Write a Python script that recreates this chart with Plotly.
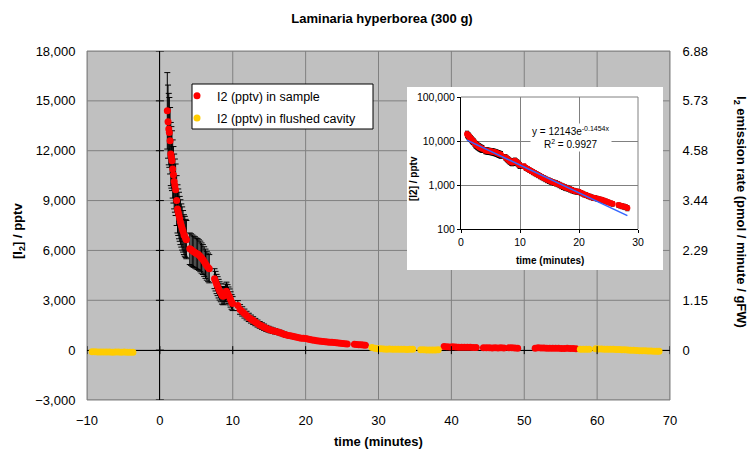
import math
import plotly.graph_objects as go

# ---------------- data ----------------
TITLE = "Laminaria hyperborea (300 g)"
SAMPLE_NAME = "I2 (pptv) in sample"
FLUSH_NAME = "I2 (pptv) in flushed cavity"

# sample, main decay (minutes)
SAMPLE_T = [1.02, 1.12, 1.22, 1.30, 1.40, 1.50, 1.58, 1.66, 1.76, 1.86, 1.96, 2.06, 2.16, 2.30,
            2.42, 2.52, 2.62, 2.72, 2.82, 2.94, 3.06, 3.18, 3.30, 3.42, 3.54, 3.64,
            4.10, 4.28, 4.46, 4.64, 4.82, 5.00, 5.18, 5.36, 5.54, 5.72, 5.90, 6.08, 6.26, 6.44,
            6.62, 6.78,
            7.50, 7.64, 7.78, 7.92, 8.06, 8.20, 8.36, 8.52, 8.68, 8.84, 9.00, 9.14, 9.28, 9.42,
            9.56, 9.70, 9.84, 9.98,
            10.7, 11.0, 11.3, 11.6, 11.9, 12.2, 12.5, 12.8, 13.1, 13.4, 13.7, 14.0, 14.3, 14.6,
            14.9, 15.2, 15.5, 15.8, 16.1, 16.4, 16.7, 17.0, 17.3, 17.6, 17.9, 18.2, 18.5, 18.8,
            19.1, 19.4, 19.7, 20.0, 20.3, 20.6, 20.9, 21.2, 21.5, 21.8, 22.1, 22.4, 22.7, 23.0,
            23.3, 23.6, 23.9, 24.2, 24.5, 24.8, 25.1, 25.4, 25.7,
            26.7, 27.0, 27.3, 27.6, 27.9, 28.2]
SAMPLE_Y = [14400, 13750, 13300, 13100, 12600, 11800, 11600, 11400, 10900, 10550, 10150, 9900, 9650, 9000,
            8500, 8300, 8100, 7900, 7700, 7500, 7320, 7150, 6950, 6850, 6720, 6650,
            6100, 6050, 5980, 5920, 5880, 5820, 5780, 5720, 5640, 5540, 5450, 5330, 5200, 5080,
            4980, 4900,
            4300, 4150, 3980, 3850, 3700, 3560, 3450, 3300, 3250, 3300, 3450, 3550, 3420, 3300,
            3200, 3050, 2900, 2800,
            2680, 2450, 2330, 2200, 2080, 1970, 1870, 1780, 1690, 1600, 1520, 1450, 1380, 1310,
            1260, 1210, 1170, 1130, 1100, 1060, 1010, 960, 920, 885, 860, 835, 800, 770,
            740, 720, 710, 700, 670, 640, 610, 590, 570, 550, 530, 515, 505, 495,
            480, 470, 460, 445, 430, 415, 400, 385, 375,
            350, 340, 330, 325, 315, 300]
SAMPLE_ERR = [2300, 2200, 2150, 2100, 2000, 1900, 1850, 1800, 1750, 1700, 1650, 1600, 1550, 1500,
              1450, 1400, 1400, 1350, 1350, 1300, 1300, 1250, 1200, 1200, 1150, 1150,
              950, 950, 950, 940, 940, 930, 930, 920, 920, 910, 900, 890, 880, 870,
              860, 850,
              600, 590, 580, 570, 560, 550, 540, 530, 520, 520, 530, 540, 520, 500,
              480, 460, 440, 420,
              300, 290, 280, 270, 260, 250, 240, 230, 220, 210, 200, 195, 190, 180,
              175, 170, 160, 155, 150, 145, 140, 135, 130, 125, 120, 115, 110, 105,
              100, 95, 90, 85, 80, 78, 75, 72, 70, 68, 66, 64, 62, 60,
              58, 56, 54, 52, 50, 48, 46, 45, 44,
              40, 40, 40, 40, 40, 40]

# sample, later measurements
LATE_T = [39.0, 39.4, 39.8, 40.2, 40.6, 41.0, 41.4, 41.8, 42.2, 42.6, 43.0, 43.4,
          44.4, 44.8, 45.2, 45.6, 46.0, 46.4, 46.8, 47.2,
          47.9, 48.3, 48.7, 49.1,
          51.5, 51.9, 52.3, 52.7, 53.1, 53.5, 53.9, 54.3, 54.7, 55.1, 55.5, 55.9, 56.3, 56.7, 57.1]
LATE_Y = [220, 200, 190, 200, 185, 180, 175, 180, 170, 175, 165, 160,
          140, 150, 145, 130, 140, 135, 145, 130,
          150, 140, 135, 120,
          120, 140, 130, 125, 120, 110, 120, 115, 110, 105, 100, 110, 100, 95, 90]
LATE_ERR = [20, 20, 20, 20, 20, 20, 20, 20, 20, 20, 20, 20,
            20, 20, 20, 20, 20, 20, 20, 20,
            20, 20, 20, 20,
            20, 20, 20, 20, 20, 20, 20, 20, 20, 20, 20, 20, 20, 20, 20]

# flushed cavity
FLUSH_T = [-9.3, -8.9, -8.5, -8.1, -7.7, -7.3, -6.9, -6.5, -6.1, -5.7, -5.3, -4.9, -4.5, -4.1, -3.7,
           29.1, 29.5, 29.9, 30.3, 30.7, 31.1, 31.5, 31.9, 32.3, 32.7, 33.1, 33.5, 33.9, 34.3, 34.7,
           35.8, 36.2, 36.6, 37.0, 37.4, 37.8, 38.2,
           57.7, 58.1, 58.5, 58.9,
           59.8, 60.2, 60.6, 61.0, 61.4, 61.8, 62.2, 62.6, 63.0, 63.4, 63.8, 64.2, 64.6, 65.0,
           65.4, 65.8, 66.2, 66.6, 67.0, 67.4, 67.8, 68.2, 68.5]
FLUSH_Y = [-90, -100, -110, -105, -110, -115, -110, -120, -115, -110, -120, -115, -125, -120, -120,
           160, 110, 90, 80, 70, 60, 70, 60, 50, 55, 60, 50, 45, 55, 60,
           30, 20, 10, 15, 5, 10, 20,
           60, 50, 55, 60,
           80, 70, 65, 60, 55, 60, 50, 40, 35, 30, 20, 10, 0, -10,
           -20, -30, -30, -40, -50, -50, -60, -60, -70]

# exponential fit shown in the inset
FIT_A = 12143
FIT_B = -0.1454
FIT_R2 = 0.9927
FIT_T = [1.0, 28.2]

# axes
X_TICKS = [-10, 0, 10, 20, 30, 40, 50, 60, 70]
Y_TICKS = [-3000, 0, 3000, 6000, 9000, 12000, 15000, 18000]
RATE_TICK_POS = [0, 3000, 6000, 9000, 12000, 15000, 18000]
RATE_TICKS = ["0", "1.15", "2.29", "3.44", "4.58", "5.73", "6.88"]
RATE_FACTOR = 6.88 / 18000
INSET_X_TICKS = [0, 10, 20, 30]
INSET_Y_TICKS = [100, 1000, 10000, 100000]
INSET_Y_LABELS = ["100", "1,000", "10,000", "100,000"]

# ---------------- styles ----------------
FONT = "Arial, 'Liberation Sans', sans-serif"
RED = "#FF0000"
YELLOW = "#FFCC00"
PLOT_GRAY = "#C0C0C0"
GRID = "#808080"

W, H = 755, 451
L, R, T, B = 87, 85, 51, 51
PW, PH = W - L - R, H - T - B


def px(x):
    return (x - L) / PW


def py(y):
    return (H - B - y) / PH


all_t = SAMPLE_T + LATE_T
all_y = SAMPLE_Y + LATE_Y
all_err = SAMPLE_ERR + LATE_ERR

fig = go.Figure()
fig.add_trace(go.Scatter(
    x=all_t, y=all_y, mode="markers", name=SAMPLE_NAME, legendgroup="a",
    marker=dict(color=RED, size=7),
    error_y=dict(type="data", array=all_err, color="black", thickness=1, width=3),
    hoverinfo="skip"))
fig.add_trace(go.Scatter(
    x=FLUSH_T, y=FLUSH_Y, mode="markers", name=FLUSH_NAME, legendgroup="b",
    marker=dict(color=YELLOW, size=7), hoverinfo="skip"))
# secondary (emission rate) axis carries the same values, scaled
fig.add_trace(go.Scatter(
    x=all_t, y=[v * RATE_FACTOR for v in all_y], yaxis="y2", mode="markers",
    marker=dict(opacity=0), showlegend=False, hoverinfo="skip"))

# inset
fig.add_trace(go.Scatter(
    x=SAMPLE_T, y=SAMPLE_Y, xaxis="x3", yaxis="y3", mode="markers",
    marker=dict(color=RED, size=6),
    error_y=dict(type="data", array=SAMPLE_ERR, color="black", thickness=1, width=2),
    showlegend=False, hoverinfo="skip"))
fig.add_trace(go.Scatter(
    x=FIT_T, y=[FIT_A * math.exp(FIT_B * t) for t in FIT_T], xaxis="x3", yaxis="y3",
    mode="lines", line=dict(color="#3366FF", width=1.5), showlegend=False, hoverinfo="skip"))

shapes = []
# main plot background and grid (lower layer, so the inset box can cover them)
shapes.append(dict(type="rect", xref="paper", yref="paper", x0=0, x1=1, y0=0, y1=1,
                   fillcolor=PLOT_GRAY, line=dict(width=0), layer="below"))
for v in X_TICKS:
    shapes.append(dict(type="line", xref="x", yref="paper", x0=v, x1=v, y0=0, y1=1,
                       line=dict(color=GRID, width=1), layer="below"))
for v in Y_TICKS:
    shapes.append(dict(type="line", xref="paper", yref="y", x0=0, x1=1, y0=v, y1=v,
                       line=dict(color=GRID, width=1), layer="below"))
shapes.append(dict(type="rect", xref="paper", yref="paper", x0=0, x1=1, y0=0, y1=1,
                   line=dict(color=GRID, width=1), layer="below"))
# inset white panel
shapes.append(dict(type="rect", xref="paper", yref="paper",
                   x0=px(407), x1=px(663), y0=py(270), y1=py(87),
                   fillcolor="white", line=dict(width=0), layer="below"))
# legend box
shapes.append(dict(type="rect", xref="paper", yref="paper",
                   x0=px(192), x1=px(373), y0=py(129), y1=py(84),
                   fillcolor="white", line=dict(color="black", width=1), layer="below"))
# tick crosses on the zero axes
for v in Y_TICKS:
    shapes.append(dict(type="line", xref="x", yref="y", xsizemode="pixel", xanchor=0,
                       x0=-4, x1=4, y0=v, y1=v, line=dict(color="black", width=1)))
for v in X_TICKS:
    shapes.append(dict(type="line", xref="x", yref="y", ysizemode="pixel", yanchor=0,
                       y0=-4, y1=4, x0=v, x1=v, line=dict(color="black", width=1)))
# inset top/right border
shapes.append(dict(type="line", xref="x3 domain", yref="y3 domain", x0=0, x1=1, y0=1, y1=1,
                   line=dict(color=GRID, width=1)))
shapes.append(dict(type="line", xref="x3 domain", yref="y3 domain", x0=1, x1=1, y0=0, y1=1,
                   line=dict(color=GRID, width=1)))


def note(text, x, y, size, angle=0, **kw):
    return dict(text=text, xref="paper", yref="paper", x=px(x), y=py(y), xanchor="center",
                yanchor="middle", textangle=angle, showarrow=False, font=dict(size=size), **kw)


annotations = [
    note("<b>[I<sub>2</sub>] / pptv</b>", 18, 231, 13, -90),
    note("<b>I<sub>2</sub> emission rate (pmol / minute / gFW)</b>", 741, 212, 13, 90),
    note("<b>time (minutes)</b>", 378, 441, 13),
    note("<b>time (minutes)</b>", 550, 260, 10),
    note("<b>[I2] / pptv</b>", 413, 179, 10, -90),
    note(f"y = {FIT_A}e<sup>{FIT_B}x</sup><br>R<sup>2</sup> = {FIT_R2}", 571, 137, 10,
         bgcolor="white"),
]

fig.update_layout(
    width=W, height=H, margin=dict(l=L, r=R, t=T, b=B, pad=0),
    paper_bgcolor="white", plot_bgcolor="white",
    font=dict(family=FONT, size=13, color="black"),
    title=dict(text=f"<b>{TITLE}</b>", x=382 / W, xanchor="center", y=1 - 18 / H, yanchor="middle",
               font=dict(size=13)),
    showlegend=True,
    legend=dict(x=px(177), y=py(81), xanchor="left", yanchor="top", bgcolor="rgba(0,0,0,0)",
                borderwidth=0, font=dict(size=12.5), traceorder="grouped", tracegroupgap=3),
    xaxis=dict(domain=[0, 1], range=[-10, 70], tickvals=X_TICKS, showgrid=False,
               zeroline=True, zerolinecolor="black", zerolinewidth=1, showline=False,
               ticks="outside", ticklen=8, tickcolor="rgba(0,0,0,0)"),
    yaxis=dict(domain=[0, 1], range=[-3000, 18000], tickvals=Y_TICKS, tickformat=",",
               showgrid=False, zeroline=True, zerolinecolor="black", zerolinewidth=1,
               showline=False, ticks="outside", ticklen=8, tickcolor="rgba(0,0,0,0)"),
    yaxis2=dict(overlaying="y", side="right", anchor="x",
                range=[-3000 * RATE_FACTOR, 18000 * RATE_FACTOR],
                tickvals=[v * RATE_FACTOR for v in RATE_TICK_POS], ticktext=RATE_TICKS,
                showgrid=False, zeroline=False, showline=False,
                ticks="outside", ticklen=9, tickcolor="rgba(0,0,0,0)"),
    xaxis3=dict(domain=[px(461), px(638)], anchor="y3", range=[0, 30], tickvals=INSET_X_TICKS,
                showgrid=True, gridcolor=GRID, gridwidth=1, zeroline=False,
                showline=True, linecolor="black", linewidth=1,
                ticks="outside", ticklen=3, tickcolor="black", tickfont=dict(size=10.5)),
    yaxis3=dict(domain=[py(229), py(97)], anchor="x3", type="log", range=[2, 5],
                tickvals=INSET_Y_TICKS, ticktext=INSET_Y_LABELS,
                showgrid=True, gridcolor=GRID, gridwidth=1, zeroline=False,
                showline=True, linecolor="black", linewidth=1,
                ticks="outside", ticklen=3, tickcolor="black", tickfont=dict(size=10.5)),
    shapes=shapes,
    annotations=annotations,
)

fig.write_html("out.html", config={"displayModeBar": False})
